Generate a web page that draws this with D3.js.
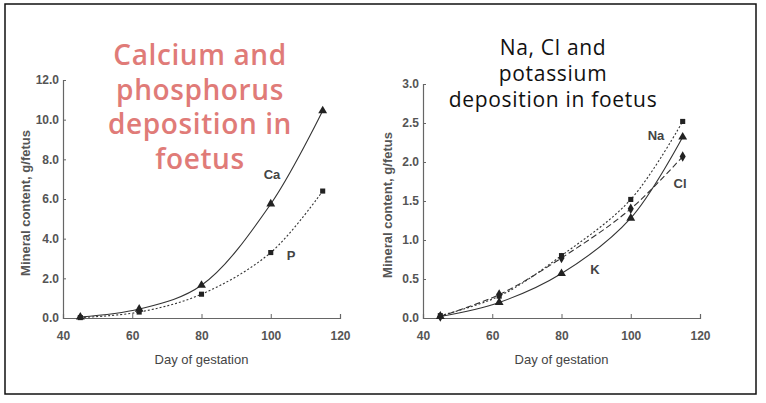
<!DOCTYPE html>
<html>
<head>
<meta charset="utf-8">
<script src="https://cdn.jsdelivr.net/npm/d3@7"></script>
<style>
body { margin: 0; background: #fff; }
.tick text { font-family: 'Liberation Sans Narrow', 'Liberation Sans', sans-serif; font-weight: bold; font-size: 12px; fill: #555; }
</style>
</head>
<body>
<svg id="chart"></svg>
<script>
var width = 766,
height = 403;

// day of gestation
const days = [45, 62, 80, 100, 115];
const xTicks = [40, 60, 80, 100, 120];

// left panel, g/fetus
const caValues = [0.05, 0.45, 1.65, 5.75, 10.45];
const pValues = [0.02, 0.3, 1.2, 3.3, 6.4];
const leftTicks = [0, 2, 4, 6, 8, 10, 12];

// right panel, g/fetus
const naValues = [0.03, 0.28, 0.8, 1.52, 2.52];
const clValues = [0.02, 0.3, 0.77, 1.4, 2.07];
const kValues = [0.02, 0.2, 0.57, 1.28, 2.32];
const rightTicks = [0, 0.5, 1, 1.5, 2, 2.5, 3];

const svg = d3.select("#chart")
.attr("width", width)
.attr("height", height);

// outer frame
svg.append("rect")
.attr("x", 5).attr("y", 4)
.attr("width", 751).attr("height", 390)
.attr("fill", "none")
.attr("stroke", "#111")
.attr("stroke-width", 1.5);

function drawPanel(opts) {
    var g = svg.append("g").attr("transform", "translate(" + opts.left + "," + opts.top + ")");
    var x = d3.scaleLinear().domain([40, 120]).range([0, opts.w]);
    var y = d3.scaleLinear().domain([0, opts.yMax]).range([opts.h, 0]);

    var xAxis = g.append("g")
        .attr("transform", "translate(0," + opts.h + ")")
        .call(d3.axisBottom(x).tickValues(xTicks).tickSize(-4).tickPadding(13).tickFormat(d3.format("d")));
    var yAxis = g.append("g")
        .call(d3.axisLeft(y).tickValues(opts.yTicks).tickSize(-3).tickPadding(4).tickFormat(d3.format(".1f")));
    [xAxis, yAxis].forEach(function (a) {
        a.select(".domain").attr("stroke", "#666").attr("stroke-width", 1.2);
        a.selectAll(".tick line").attr("stroke", "#666");
    });

    g.append("text")
        .attr("x", opts.w / 2)
        .attr("y", opts.h + 46)
        .attr("text-anchor", "middle")
        .style("font-family", "'Liberation Sans Narrow', 'Liberation Sans', sans-serif")
        .style("font-size", "13px")
        .attr("fill", "#444")
        .text("Day of gestation");

    g.append("text")
        .attr("transform", "translate(" + opts.yLabelX + "," + (opts.h / 2 + 4) + ") rotate(-90)")
        .attr("text-anchor", "middle")
        .style("font-family", "'Liberation Sans Narrow', 'Liberation Sans', sans-serif")
        .style("font-weight", "bold")
        .style("font-size", "13px")
        .attr("fill", "#555")
        .text("Mineral content, g/fetus");

    var line = d3.line()
        .x(function (d, i) { return x(days[i]); })
        .y(function (d) { return y(d); })
        .curve(d3.curveCatmullRom);

    opts.series.forEach(function (s) {
        g.append("path")
            .attr("d", line(s.values))
            .attr("fill", "none")
            .attr("stroke", "#333")
            .attr("stroke-width", 1.1)
            .attr("stroke-dasharray", s.dash);
        var sym = d3.symbol().type(s.shape).size(s.size);
        g.selectAll(null)
            .data(s.values)
            .enter().append("path")
            .attr("d", sym)
            .attr("transform", function (d, i) { return "translate(" + x(days[i]) + "," + y(d) + ")"; })
            .attr("fill", "#222");
        g.append("text")
            .attr("x", s.lx)
            .attr("y", s.ly)
            .attr("text-anchor", "middle")
            .style("font-family", "'Liberation Sans Narrow', 'Liberation Sans', sans-serif")
            .style("font-weight", "bold")
            .style("font-size", "13px")
            .attr("fill", "#444")
            .text(s.name);
    });
    return g;
}

drawPanel({
    left: 63, top: 80, w: 277, h: 238, yMax: 12, yTicks: leftTicks, yLabelX: -33,
    series: [
        { name: "Ca", values: caValues, dash: null, shape: d3.symbolTriangle, size: 34, lx: 209, ly: 99 },
        { name: "P", values: pValues, dash: "2,2", shape: d3.symbolSquare, size: 26, lx: 228, ly: 180 }
    ]
});

drawPanel({
    left: 423, top: 84, w: 277, h: 234, yMax: 3, yTicks: rightTicks, yLabelX: -31,
    series: [
        { name: "Na", values: naValues, dash: "2,2", shape: d3.symbolSquare, size: 26, lx: 233, ly: 56 },
        { name: "Cl", values: clValues, dash: "6,3", shape: d3.symbolDiamond, size: 32, lx: 257, ly: 104 },
        { name: "K", values: kValues, dash: null, shape: d3.symbolTriangle, size: 34, lx: 172, ly: 190 }
    ]
});

// titles
var leftTitle = ["Calcium and", "phosphorus", "deposition in", "foetus"];
svg.append("g").selectAll("text")
.data(leftTitle)
.enter().append("text")
.attr("x", 200)
.attr("y", function (d, i) { return 65 + i * 34.5; })
.attr("text-anchor", "middle")
.style("font-family", "'Open Sans', sans-serif")
.style("font-weight", 600)
.style("font-size", "28px")
.style("letter-spacing", "0.6px")
.attr("fill", "#e07b78")
.text(function (d) { return d; });

var rightTitle = ["Na, Cl and", "potassium", "deposition in foetus"];
svg.append("g").selectAll("text")
.data(rightTitle)
.enter().append("text")
.attr("x", 553)
.attr("y", function (d, i) { return 55 + i * 26; })
.attr("text-anchor", "middle")
.style("font-family", "'Open Sans', sans-serif")
.style("font-size", "21px")
.style("letter-spacing", "0.7px")
.attr("fill", "#111")
.text(function (d) { return d; });
</script>
</body>
</html>
